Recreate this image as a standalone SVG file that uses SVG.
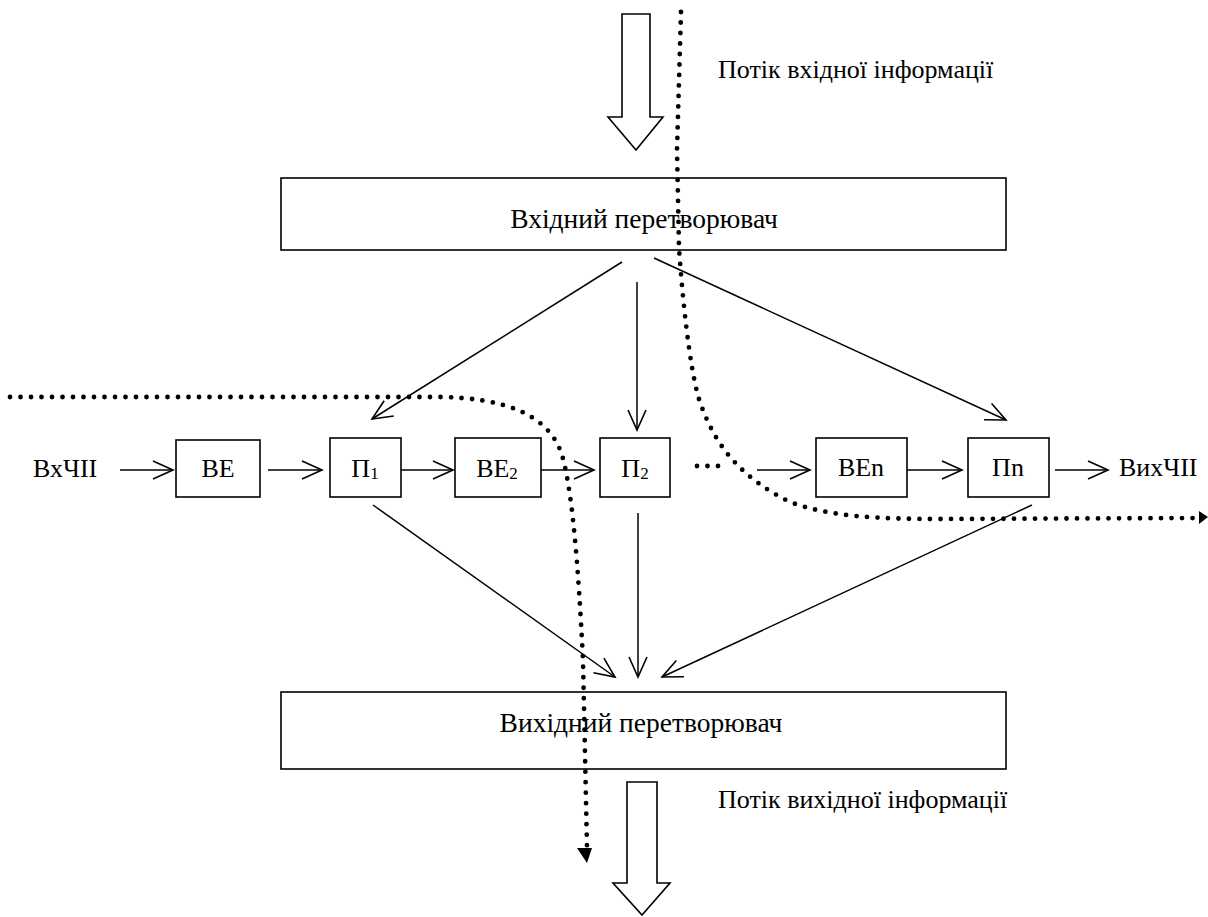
<svg xmlns="http://www.w3.org/2000/svg" width="1208" height="917" viewBox="0 0 1208 917">
<style>
text{font-family:'Liberation Serif','DejaVu Serif',serif;font-size:26px;fill:#000}
.lg{font-size:27.5px}
.box{fill:#fff;stroke:#000;stroke-width:1.6}
.ln{fill:none;stroke:#000;stroke-width:1.5;marker-end:url(#oa)}
.dot{fill:none;stroke:#000;stroke-width:4.8;stroke-linecap:round;stroke-dasharray:0 10.5}
.sub{font-size:17px}
.big{fill:#fff;stroke:#000;stroke-width:1.6}
</style>
<defs>
<marker id="oa" markerUnits="userSpaceOnUse" markerWidth="24" markerHeight="24" refX="0" refY="0" viewBox="-22 -12 24 24" orient="auto" overflow="visible">
<path d="M-20,-9 L0,0 L-20,9" fill="none" stroke="#000" stroke-width="1.6"/>
</marker>
</defs>
<rect width="1208" height="917" fill="#fff"/>

<g id="input-flow">
<path class="big" d="M622,14 L650,14 L650,117 L663,117 L636,150 L608,117 L622,117 Z"/>
<text x="718" y="78" font-size="26.6">Потік вхідної інформації</text>
</g>

<g id="input-converter">
<rect class="box" x="281" y="178" width="725" height="72"/>
<text class="lg" x="644" y="228" text-anchor="middle">Вхідний перетворювач</text>
</g>

<g id="vx">
<text x="33" y="477">ВхЧІІ</text>
</g>
<g id="BE">
<rect class="box" x="176" y="440" width="84" height="57"/>
<text x="218" y="477" text-anchor="middle">ВЕ</text>
</g>
<g id="P1">
<rect class="box" x="330" y="438" width="71" height="59"/>
<text x="365" y="477" text-anchor="middle">П<tspan class="sub" dy="2">1</tspan></text>
</g>
<g id="BE2">
<rect class="box" x="455" y="438" width="86" height="59"/>
<text x="497" y="477" text-anchor="middle">ВЕ<tspan class="sub" dy="2">2</tspan></text>
</g>
<g id="P2">
<rect class="box" x="600" y="438" width="70" height="59"/>
<text x="635" y="477" text-anchor="middle">П<tspan class="sub" dy="2">2</tspan></text>
</g>
<g id="BEn">
<rect class="box" x="816" y="438" width="91" height="59"/>
<text x="861" y="476" text-anchor="middle">ВЕn</text>
</g>
<g id="Pn">
<rect class="box" x="968" y="438" width="81" height="59"/>
<text x="1008" y="476" text-anchor="middle">Пn</text>
</g>
<g id="vyx">
<text x="1119" y="476">ВихЧІІ</text>
</g>

<g id="output-converter">
<rect class="box" x="281" y="692" width="725" height="77"/>
<text class="lg" x="641" y="732" text-anchor="middle">Вихідний перетворювач</text>
</g>

<g id="output-flow">
<path class="big" d="M627,782 L657,782 L657,883 L670,883 L642,915 L613,883 L627,883 Z"/>
<text x="718" y="808" font-size="26.6">Потік вихідної інформації</text>
</g>

<g id="connectors">
<line class="ln" x1="622" y1="262" x2="372" y2="419"/>
<line class="ln" x1="637" y1="282" x2="637" y2="430"/>
<line class="ln" x1="654" y1="258" x2="1006" y2="420"/>
<line class="ln" x1="120" y1="470" x2="173" y2="470"/>
<line class="ln" x1="268" y1="470" x2="322" y2="470"/>
<line class="ln" x1="401" y1="470" x2="453" y2="470"/>
<line class="ln" x1="541" y1="470" x2="594" y2="470"/>
<line class="ln" x1="757" y1="470" x2="810" y2="470"/>
<line class="ln" x1="907" y1="470" x2="962" y2="470"/>
<line class="ln" x1="1055" y1="470" x2="1108" y2="470"/>
<line class="ln" x1="373" y1="505" x2="615" y2="677"/>
<line class="ln" x1="638" y1="513" x2="638" y2="677"/>
<line class="ln" x1="1032" y1="505" x2="662" y2="677"/>
<path class="dot" d="M697,466 L727,466"/>
</g>

<g id="flows">
<path class="dot" d="M10,397 L440,397 C500,398 548,412 562,455 C572,490 578,560 583,660 L587,848"/>
<path d="M577,848 L592,848 L587,863 Z" fill="#000"/>
<path class="dot" d="M681,12 L677,150 L679,248 C684,320 693,390 703,410 C718,450 745,480 790,502 C830,517 880,519 940,519 L1200,518"/>
<path d="M1199,511 L1208,517 L1199,524 Z" fill="#000"/>
</g>
</svg>
